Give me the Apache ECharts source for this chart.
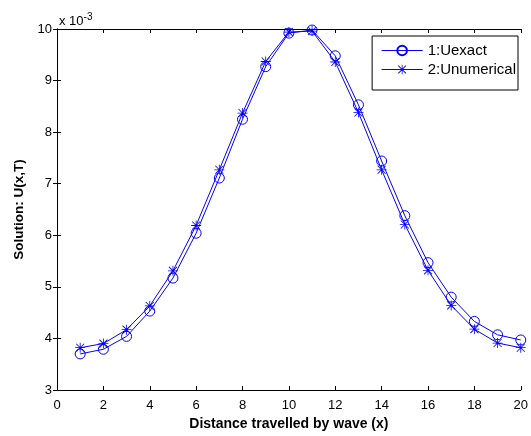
<!DOCTYPE html>
<html>
<head>
<meta charset="utf-8">
<script src="https://cdn.jsdelivr.net/npm/echarts@6/dist/echarts.min.js"></script>
<style>html,body{margin:0;padding:0;background:#fff;}#c{width:531px;height:436px;}</style>
</head>
<body>
<div id="c"></div>
<script>
// values in units of 1e-3
const xValues = [1,2,3,4,5,6,7,8,9,10,11,12,13,14,15,16,17,18,19,20];
const uExact = [3.70,3.79,4.04,4.53,5.17,6.04,7.11,8.25,9.27,9.92,9.98,9.48,8.53,7.44,6.38,5.47,4.80,4.33,4.07,3.97];
const uNumerical = [3.82,3.90,4.17,4.63,5.31,6.19,7.27,8.37,9.37,9.94,9.96,9.36,8.38,7.27,6.21,5.32,4.64,4.18,3.91,3.82];
const xTicks = [0,2,4,6,8,10,12,14,16,18,20];
const yTicks = [3,4,5,6,7,8,9,10];

const blue = '#0000ff';
const star = 'path://M4.6 0L5.4 0L5.4 10L4.6 10Z M0 4.6L10 4.6L10 5.4L0 5.4Z M0.7 1.3L1.3 0.7L9.3 8.7L8.7 9.3Z M8.7 0.7L9.3 1.3L1.3 9.3L0.7 8.7Z';
const font = 'Liberation Sans, Arial, sans-serif';

const chart = echarts.init(document.getElementById('c'), null, {renderer: 'canvas'});
const axisCommon = {
  axisLine: {show: true, lineStyle: {color: '#000', width: 1}},
  axisTick: {show: true, inside: true, length: 4, lineStyle: {color: '#000'}},
  splitLine: {show: false}
};
chart.setOption({
  animation: false,
  backgroundColor: '#fff',
  textStyle: {fontFamily: font},
  title: {
    text: 'x 10{sup|-3}',
    left: 54, top: 7,
    textStyle: {fontSize: 13, fontWeight: 'normal', color: '#000', fontFamily: font,
      rich: {sup: {fontSize: 10, verticalAlign: 'top', padding: [0,0,9,0], color: '#000', fontFamily: font}}}
  },
  grid: {left: 57, right: 9, top: 29, bottom: 41, containLabel: false},
  legend: {
    right: 13, top: 36,
    orient: 'vertical',
    backgroundColor: '#fff',
    borderColor: '#000', borderWidth: 1,
    padding: [7, 2, 13, 9],
    itemGap: 4,
    itemWidth: 41, itemHeight: 12,
    lineStyle: {width: 1},
    textStyle: {fontSize: 15, color: '#000', fontFamily: font},
    data: ['1:Uexact', '2:Unumerical']
  },
  xAxis: [
    Object.assign({}, axisCommon, {
      type: 'value', min: 0, max: 20, interval: 2, position: 'bottom',
      axisLabel: {color: '#000', fontSize: 13, margin: 9, fontFamily: font,
        customValues: xTicks},
      name: 'Distance travelled by wave (x)', nameLocation: 'middle', nameGap: 27,
      nameTextStyle: {fontWeight: 'bold', fontSize: 14, color: '#000', fontFamily: font}
    }),
    Object.assign({}, axisCommon, {
      type: 'value', min: 0, max: 20, interval: 2, position: 'top',
      axisLabel: {show: false}
    })
  ],
  yAxis: [
    Object.assign({}, axisCommon, {
      type: 'value', min: 3, max: 10, interval: 1, position: 'left',
      axisLabel: {color: '#000', fontSize: 13, margin: 5, fontFamily: font,
        customValues: yTicks},
      name: 'Solution: U(x,T)', nameLocation: 'middle', nameGap: 26, nameRotate: 90,
      nameTextStyle: {fontWeight: 'bold', fontSize: 13.5, color: '#000', fontFamily: font}
    }),
    Object.assign({}, axisCommon, {
      type: 'value', min: 3, max: 10, interval: 1, position: 'right',
      axisLabel: {show: false}
    })
  ],
  series: [
    {
      name: '1:Uexact', type: 'line',
      data: xValues.map((x, i) => [x, uExact[i]]),
      symbol: 'circle', symbolSize: 10,
      lineStyle: {color: blue, width: 1},
      itemStyle: {color: 'rgba(0,0,0,0)', borderColor: blue, borderWidth: 1},
      z: 3
    },
    {
      name: '2:Unumerical', type: 'line',
      data: xValues.map((x, i) => [x, uNumerical[i]]),
      symbol: star, symbolSize: 10,
      lineStyle: {color: blue, width: 1},
      itemStyle: {color: blue},
      z: 3
    }
  ]
});
</script>
</body>
</html>
